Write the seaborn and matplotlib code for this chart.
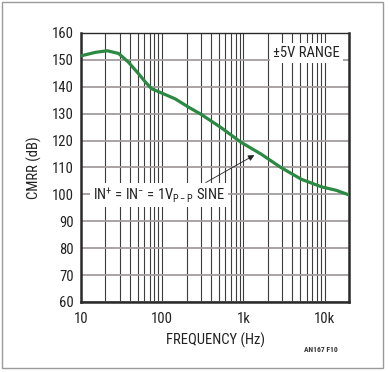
import numpy as np
import matplotlib
matplotlib.use("Agg")
import matplotlib.pyplot as plt
from matplotlib.patches import Rectangle
from matplotlib.ticker import FixedLocator, LogLocator, NullFormatter
import seaborn as sns

# CMRR vs frequency
freq_hz = [10, 15, 21, 29, 38, 51, 62, 74, 100, 145, 212, 300, 527, 933, 1650, 2900, 5200, 9200, 14000, 20000]
cmrr_db = [151.5, 152.8, 153.4, 152.4, 149.3, 144.9, 141.8, 139.3, 137.6, 135.5, 132.4, 129.8, 124.9, 119.4, 115.0, 110.0, 105.6, 102.8, 101.5, 99.8]

x_ticks = [10, 100, 1000, 10000]
x_tick_labels = ["10", "100", "1k", "10k"]
y_ticks = list(range(60, 161, 10))

sns.set_style("white")
plt.rcParams['font.family'] = ['Roboto Condensed', 'DejaVu Sans']
plt.rcParams['mathtext.fontset'] = 'custom'
plt.rcParams['mathtext.rm'] = 'Roboto Condensed'
plt.rcParams['mathtext.it'] = 'Roboto Condensed'

fig = plt.figure(figsize=(3.89, 3.72), dpi=100)
ax = fig.add_axes([81 / 389, 1 - 302 / 372, 268 / 389, 269 / 372])

sns.lineplot(x=freq_hz, y=cmrr_db, ax=ax, color="#2b8a42", linewidth=2.3, zorder=4)

ax.set_xscale("log")
ax.set_xlim(10, 20000)
ax.set_ylim(60, 160)

ax.xaxis.set_major_locator(FixedLocator(x_ticks))
ax.set_xticklabels(x_tick_labels)
ax.xaxis.set_minor_locator(LogLocator(base=10, subs=np.arange(2, 10)))
ax.xaxis.set_minor_formatter(NullFormatter())
ax.set_yticks(y_ticks)

ax.grid(True, axis="x", which="both", color="#3c3c3c", linewidth=0.8, zorder=1)
ax.grid(True, axis="y", which="major", color="#a39c9c", linewidth=1.3, zorder=1)
ax.set_axisbelow(True)

ax.tick_params(axis="both", which="both", length=0, labelsize=10.5, colors="#222222")
ax.tick_params(axis="x", pad=7)
ax.tick_params(axis="y", pad=5)

for side, lw in [("left", 1.8), ("bottom", 1.8), ("right", 1.8), ("top", 1.0)]:
    ax.spines[side].set_visible(True)
    ax.spines[side].set_color("#2a2a2a")
    ax.spines[side].set_linewidth(lw)

ax.set_xlabel("FREQUENCY (Hz)", fontsize=10.5, color="#222222", labelpad=5)
ax.set_ylabel("CMRR (dB)", fontsize=10.5, color="#222222", labelpad=7)

box = dict(facecolor="white", edgecolor="none", pad=2)
ax.text(5970, 152.6, "±5V RANGE", fontsize=10.5, ha="center", va="center",
        color="#222222", bbox=box, zorder=3)
ax.text(92, 99.8, r"IN$^{+}$ = IN$^{-}$ = 1V$_{\mathregular{P-P}}$ SINE", fontsize=10.5,
        ha="center", va="center", color="#222222", bbox=box, zorder=3)
ax.annotate("", xy=(1365, 114.6), xytext=(344, 104.4),
            arrowprops=dict(arrowstyle="-|>", color="#222222", lw=0.6,
                            mutation_scale=9, shrinkA=0, shrinkB=0), zorder=5)

fig.text(321 / 389, 1 - 349 / 372, "AN167 F10", fontsize=5.5, fontweight="bold",
         ha="center", va="center", color="#333333")

fig.patches.append(Rectangle((2 / 389, 1 - 368 / 372), 381 / 389, 366 / 372,
                             transform=fig.transFigure, fill=False,
                             edgecolor="#9a9a9a", linewidth=1.0))

fig.savefig("out.png", dpi=100)
